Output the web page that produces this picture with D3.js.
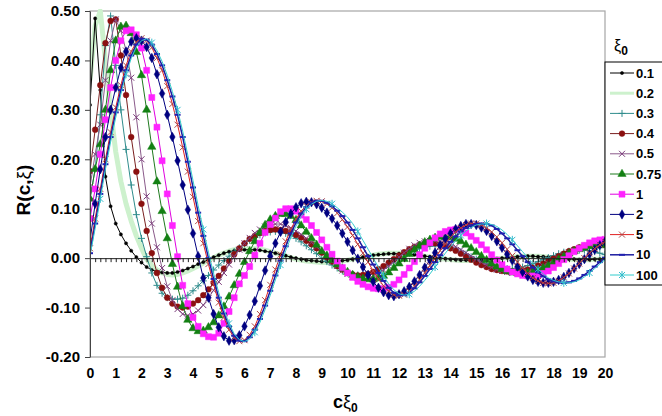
<!DOCTYPE html>
<html>
<head>
<meta charset="utf-8">
<script src="https://cdn.jsdelivr.net/npm/d3@7"></script>
<style>
  body { margin: 0; background: #fff; }
  svg { display: block; font-family: "Liberation Sans", Arial, sans-serif; }
</style>
</head>
<body>
<svg id="chart" width="662" height="416"></svg>
<script>
// x categories: c*xi0 from 0 to 20, every 0.2
const cValues = d3.range(101).map(i => i / 5);
const xTickLabels = d3.range(0, 21);
const yTickValues = [-0.2, -0.1, 0, 0.1, 0.2, 0.3, 0.4, 0.5];
const xiLabels = ['0.1', '0.2', '0.3', '0.4', '0.5', '0.75', '1', '2', '5', '10', '100'];

// R(c, xi), one value per 0.2 step (10 per row)
const r01 = [
  0.31, 0.485, 0.34, 0.165, 0.105, 0.07, 0.048, 0.03, 0.015, 0.002,
  -0.009, -0.018, -0.024, -0.027, -0.029, -0.03, -0.03, -0.028, -0.025, -0.021,
  -0.017, -0.012, -0.008, -0.003, 0.002, 0.006, 0.01, 0.013, 0.015, 0.016,
  0.017, 0.017, 0.017, 0.016, 0.014, 0.012, 0.01, 0.007, 0.005, 0.002,
  0.0, -0.002, -0.004, -0.005, -0.006, -0.007, -0.007, -0.007, -0.006, -0.005,
  -0.004, -0.002, 0.0, 0.002, 0.004, 0.006, 0.007, 0.008, 0.009, 0.009,
  0.009, 0.009, 0.008, 0.007, 0.006, 0.004, 0.003, 0.001, 0.0, -0.001,
  -0.002, -0.003, -0.004, -0.004, -0.004, -0.004, -0.004, -0.003, -0.002, -0.001,
  0.0, 0.001, 0.002, 0.003, 0.003, 0.004, 0.004, 0.003, 0.003, 0.002,
  0.001, 0.0, -0.001, -0.002, -0.002, -0.003, -0.003, -0.003, -0.002, -0.002,
  -0.001
];
const r02 = [
  0.36, 0.47, 0.5, 0.4, 0.3, 0.215, 0.155, 0.11, 0.075, 0.045,
  0.02, -0.002, -0.015, -0.024, -0.03, -0.033, -0.034, -0.033, -0.03, -0.026,
  -0.021, -0.016, -0.01, -0.004, 0.001, 0.006, 0.01, 0.014, 0.017, 0.018,
  0.019, 0.019, 0.019, 0.018, 0.016, 0.013, 0.01, 0.007, 0.004, 0.001,
  -0.002, -0.004, -0.006, -0.007, -0.008, -0.009, -0.009, -0.008, -0.007, -0.006,
  -0.004, -0.002, 0.0, 0.002, 0.004, 0.006, 0.008, 0.009, 0.01, 0.01,
  0.01, 0.01, 0.009, 0.008, 0.006, 0.004, 0.002, 0.0, -0.001, -0.002,
  -0.003, -0.004, -0.005, -0.005, -0.005, -0.005, -0.004, -0.003, -0.002, -0.001,
  0.0, 0.001, 0.002, 0.003, 0.004, 0.004, 0.004, 0.004, 0.003, 0.002,
  0.001, 0.0, -0.001, -0.002, -0.003, -0.003, -0.003, -0.003, -0.002, -0.002,
  -0.001
];
const r03 = [
  0.12, 0.18, 0.29, 0.43, 0.49, 0.39, 0.3, 0.22, 0.148, 0.088,
  0.04, 0.003, -0.03, -0.055, -0.071, -0.08, -0.083, -0.083, -0.081, -0.075,
  -0.066, -0.056, -0.046, -0.035, -0.024, -0.014, -0.005, 0.004, 0.013, 0.021,
  0.029, 0.036, 0.042, 0.047, 0.051, 0.053, 0.054, 0.053, 0.05, 0.046,
  0.04, 0.033, 0.025, 0.017, 0.009, 0.0, -0.007, -0.014, -0.02, -0.026,
  -0.03, -0.033, -0.034, -0.034, -0.032, -0.029, -0.025, -0.02, -0.014, -0.008,
  -0.002, 0.004, 0.01, 0.015, 0.019, 0.022, 0.024, 0.025, 0.025, 0.023,
  0.021, 0.017, 0.013, 0.008, 0.003, -0.002, -0.007, -0.011, -0.015, -0.018,
  -0.02, -0.021, -0.021, -0.02, -0.018, -0.015, -0.011, -0.007, -0.003, 0.001,
  0.005, 0.009, 0.012, 0.014, 0.016, 0.016, 0.016, 0.015, 0.013, 0.01,
  0.007
];
const r04 = [
  0.176, 0.26, 0.35, 0.435, 0.48, 0.483, 0.41, 0.33, 0.245, 0.175,
  0.11, 0.055, 0.01, -0.03, -0.06, -0.08, -0.092, -0.098, -0.1, -0.098,
  -0.092, -0.085, -0.075, -0.063, -0.05, -0.036, -0.021, -0.006, 0.008, 0.02,
  0.03, 0.039, 0.045, 0.051, 0.055, 0.057, 0.058, 0.057, 0.055, 0.052,
  0.047, 0.042, 0.035, 0.028, 0.02, 0.011, 0.002, -0.007, -0.016, -0.023,
  -0.029, -0.033, -0.035, -0.034, -0.032, -0.028, -0.022, -0.016, -0.009, -0.002,
  0.005, 0.012, 0.018, 0.023, 0.027, 0.029, 0.03, 0.03, 0.028, 0.025,
  0.02, 0.015, 0.009, 0.003, -0.003, -0.009, -0.014, -0.018, -0.022, -0.024,
  -0.026, -0.027, -0.027, -0.027, -0.025, -0.023, -0.019, -0.015, -0.011, -0.006,
  -0.001, 0.004, 0.009, 0.014, 0.018, 0.022, 0.025, 0.027, 0.029, 0.03,
  0.03
];
const r05 = [
  0.145, 0.21, 0.27, 0.36, 0.44, 0.483, 0.46, 0.42, 0.365, 0.285,
  0.2, 0.125, 0.07, 0.022, -0.02, -0.057, -0.085, -0.103, -0.113, -0.116,
  -0.113, -0.106, -0.095, -0.081, -0.065, -0.048, -0.03, -0.013, 0.003, 0.017,
  0.03, 0.041, 0.051, 0.058, 0.064, 0.067, 0.069, 0.069, 0.066, 0.061,
  0.055, 0.048, 0.04, 0.032, 0.023, 0.013, 0.003, -0.007, -0.016, -0.025,
  -0.032, -0.037, -0.04, -0.041, -0.04, -0.036, -0.031, -0.024, -0.016, -0.007,
  0.002, 0.011, 0.019, 0.026, 0.031, 0.034, 0.035, 0.035, 0.034, 0.031,
  0.028, 0.023, 0.017, 0.011, 0.004, -0.002, -0.008, -0.014, -0.019, -0.023,
  -0.026, -0.028, -0.03, -0.03, -0.03, -0.028, -0.025, -0.021, -0.016, -0.011,
  -0.005, 0.0, 0.006, 0.011, 0.016, 0.02, 0.023, 0.026, 0.027, 0.028,
  0.028
];
const r075 = [
  0.12, 0.18, 0.23, 0.3, 0.38, 0.44, 0.468, 0.47, 0.455, 0.417,
  0.37, 0.3, 0.225, 0.155, 0.095, 0.04, -0.012, -0.058, -0.097, -0.125,
  -0.142, -0.148, -0.147, -0.14, -0.13, -0.116, -0.098, -0.078, -0.055, -0.032,
  -0.008, 0.014, 0.034, 0.052, 0.067, 0.078, 0.085, 0.089, 0.089, 0.085,
  0.077, 0.066, 0.053, 0.04, 0.027, 0.014, 0.005, -0.004, -0.013, -0.021,
  -0.028, -0.034, -0.039, -0.042, -0.043, -0.043, -0.041, -0.036, -0.029, -0.02,
  -0.011, -0.002, 0.008, 0.017, 0.025, 0.032, 0.037, 0.041, 0.043, 0.043,
  0.042, 0.039, 0.034, 0.027, 0.02, 0.012, 0.004, -0.004, -0.011, -0.017,
  -0.022, -0.026, -0.029, -0.03, -0.03, -0.03, -0.028, -0.025, -0.02, -0.015,
  -0.009, -0.003, 0.003, 0.009, 0.014, 0.018, 0.021, 0.024, 0.025, 0.026,
  0.026
];
const r1 = [
  0.08, 0.14, 0.21, 0.28, 0.345, 0.4, 0.44, 0.46, 0.462, 0.452,
  0.425, 0.38, 0.325, 0.265, 0.197, 0.13, 0.066, 0.003, -0.055, -0.092,
  -0.12, -0.138, -0.153, -0.159, -0.16, -0.152, -0.132, -0.108, -0.08, -0.052,
  -0.035, -0.017, 0.006, 0.03, 0.052, 0.068, 0.081, 0.094, 0.1, 0.1,
  0.095, 0.087, 0.078, 0.066, 0.052, 0.037, 0.022, 0.008, -0.006, -0.019,
  -0.03, -0.039, -0.047, -0.053, -0.058, -0.061, -0.062, -0.062, -0.059, -0.053,
  -0.044, -0.033, -0.02, -0.007, 0.007, 0.02, 0.031, 0.041, 0.049, 0.054,
  0.057, 0.058, 0.056, 0.051, 0.044, 0.036, 0.027, 0.017, 0.007, -0.004,
  -0.013, -0.022, -0.028, -0.032, -0.035, -0.036, -0.036, -0.035, -0.031, -0.026,
  -0.019, -0.011, -0.003, 0.005, 0.013, 0.02, 0.026, 0.031, 0.035, 0.037,
  0.038
];
const r2 = [
  0.035, 0.11, 0.18, 0.245, 0.3, 0.345, 0.385, 0.418, 0.438, 0.445,
  0.44, 0.427, 0.405, 0.372, 0.333, 0.29, 0.245, 0.197, 0.148, 0.098,
  0.05, 0.004, -0.04, -0.08, -0.113, -0.14, -0.158, -0.167, -0.166, -0.156,
  -0.138, -0.115, -0.087, -0.056, -0.025, 0.004, 0.03, 0.053, 0.073, 0.09,
  0.103, 0.111, 0.114, 0.113, 0.109, 0.102, 0.092, 0.08, 0.066, 0.05,
  0.033, 0.016, -0.001, -0.018, -0.034, -0.048, -0.06, -0.069, -0.075, -0.077,
  -0.073, -0.067, -0.058, -0.047, -0.034, -0.019, -0.004, 0.011, 0.026, 0.039,
  0.05, 0.059, 0.065, 0.069, 0.069, 0.067, 0.062, 0.055, 0.045, 0.034,
  0.021, 0.008, -0.005, -0.017, -0.028, -0.037, -0.044, -0.048, -0.05, -0.05,
  -0.048, -0.044, -0.038, -0.03, -0.021, -0.012, -0.002, 0.008, 0.017, 0.026,
  0.033
];
const r5 = [
  0.02, 0.08, 0.14, 0.2, 0.255, 0.305, 0.35, 0.39, 0.418, 0.437,
  0.445, 0.44, 0.426, 0.405, 0.38, 0.348, 0.312, 0.27, 0.224, 0.175,
  0.124, 0.075, 0.03, -0.012, -0.053, -0.09, -0.12, -0.145, -0.161, -0.168,
  -0.166, -0.155, -0.138, -0.113, -0.085, -0.054, -0.023, 0.007, 0.034, 0.058,
  0.079, 0.095, 0.106, 0.113, 0.116, 0.115, 0.11, 0.102, 0.091, 0.078,
  0.063, 0.046, 0.028, 0.01, -0.008, -0.026, -0.042, -0.056, -0.067, -0.074,
  -0.076, -0.074, -0.067, -0.057, -0.044, -0.03, -0.015, 0.0, 0.015, 0.029,
  0.042, 0.053, 0.061, 0.067, 0.07, 0.07, 0.067, 0.061, 0.053, 0.043,
  0.031, 0.018, 0.005, -0.008, -0.02, -0.031, -0.04, -0.046, -0.05, -0.051,
  -0.05, -0.046, -0.039, -0.031, -0.021, -0.011, 0.0, 0.01, 0.019, 0.027,
  0.033
];
const r10 = [
  0.01, 0.07, 0.13, 0.19, 0.245, 0.295, 0.34, 0.38, 0.41, 0.432,
  0.444, 0.442, 0.432, 0.413, 0.39, 0.36, 0.327, 0.29, 0.245, 0.195,
  0.143, 0.092, 0.045, 0.0, -0.042, -0.08, -0.112, -0.138, -0.157, -0.167,
  -0.168, -0.16, -0.145, -0.123, -0.096, -0.066, -0.035, -0.005, 0.024, 0.05,
  0.072, 0.09, 0.103, 0.112, 0.116, 0.116, 0.112, 0.105, 0.096, 0.085,
  0.072, 0.057, 0.04, 0.022, 0.004, -0.013, -0.03, -0.046, -0.06, -0.07,
  -0.075, -0.075, -0.07, -0.061, -0.049, -0.036, -0.022, -0.008, 0.006, 0.02,
  0.033, 0.044, 0.054, 0.061, 0.066, 0.069, 0.07, 0.069, 0.066, 0.059,
  0.05, 0.04, 0.028, 0.016, 0.004, -0.008, -0.019, -0.029, -0.037, -0.043,
  -0.047, -0.049, -0.05, -0.049, -0.046, -0.041, -0.034, -0.026, -0.017, -0.008,
  0.001
];
const r100 = [
  0.005, 0.06, 0.12, 0.18, 0.235, 0.285, 0.332, 0.372, 0.404, 0.427,
  0.44, 0.444, 0.436, 0.42, 0.398, 0.37, 0.337, 0.3, 0.257, 0.208,
  0.157, 0.106, 0.058, 0.012, -0.031, -0.07, -0.104, -0.132, -0.153, -0.165,
  -0.169, -0.164, -0.15, -0.13, -0.104, -0.075, -0.044, -0.014, 0.015, 0.042,
  0.065, 0.084, 0.099, 0.109, 0.115, 0.117, 0.115, 0.11, 0.102, 0.093,
  0.083, 0.07, 0.054, 0.036, 0.018, 0.0, -0.018, -0.036, -0.052, -0.064,
  -0.072, -0.075, -0.073, -0.067, -0.057, -0.045, -0.032, -0.018, -0.004, 0.01,
  0.023, 0.035, 0.046, 0.055, 0.062, 0.067, 0.069, 0.07, 0.068, 0.064,
  0.057, 0.048, 0.037, 0.025, 0.013, 0.001, -0.011, -0.022, -0.032, -0.04,
  -0.045, -0.048, -0.05, -0.05, -0.048, -0.044, -0.038, -0.03, -0.021, -0.012,
  -0.003
];

const seriesValues = [r01, r02, r03, r04, r05, r075, r1, r2, r5, r10, r100];

// look of each series (line colour, width, marker)
const styles = [
  { line: '#000000', w: 1, marker: 'dot', mc: '#000000' },
  { line: '#cdf1cd', w: 5, marker: 'none', mc: '#cdf1cd' },
  { line: '#2f8c8c', w: 1, marker: 'plus', mc: '#2f8c8c' },
  { line: '#7a1f1f', w: 1, marker: 'circle', mc: '#8b1010' },
  { line: '#8a5a8a', w: 1, marker: 'x', mc: '#7a3a7a' },
  { line: '#1f7a1f', w: 1, marker: 'triangle', mc: '#138013' },
  { line: '#e000e0', w: 1, marker: 'square', mc: '#ff22ff' },
  { line: '#000080', w: 1, marker: 'diamond', mc: '#000080' },
  { line: '#e02020', w: 1, marker: 'x', mc: '#b04848' },
  { line: '#1c1ca0', w: 1.5, marker: 'dash', mc: '#2020b0' },
  { line: '#33cccc', w: 1, marker: 'star', mc: '#33bbcc', every: 5 }
];
// the wide pale band goes underneath everything else
const drawOrder = [1, 0, 2, 3, 4, 5, 6, 7, 8, 9, 10];

const svg = d3.select('#chart');
svg.append('rect').attr('width', 662).attr('height', 416).attr('fill', '#fff');

// SCALES
const plot = { left: 90, right: 605, top: 11, bottom: 357 };
const x = d3.scaleLinear().domain([0, 20]).range([plot.left, plot.right]);
const y = d3.scaleLinear().domain([-0.2, 0.5]).range([plot.bottom, plot.top]);

svg.append('clipPath').attr('id', 'clip')
  .append('rect')
  .attr('x', plot.left).attr('y', plot.top - 2)
  .attr('width', plot.right - plot.left).attr('height', plot.bottom - plot.top + 2);

// plot frame
svg.append('rect')
  .attr('x', plot.left).attr('y', plot.top)
  .attr('width', plot.right - plot.left).attr('height', plot.bottom - plot.top)
  .attr('fill', 'none').attr('stroke', '#a6a6a6').attr('stroke-width', 1.2);

// MARKERS
function markerPath(type) {
  switch (type) {
    case 'dot': return d3.symbol(d3.symbolCircle, 8)();
    case 'circle': return d3.symbol(d3.symbolCircle, 26)();
    case 'triangle': return d3.symbol(d3.symbolTriangle, 30)();
    case 'square': return 'M-3,-3H3V3H-3Z';
    case 'diamond': return d3.symbol(d3.symbolDiamond, 26)();
    case 'plus': return 'M-3.5,0H3.5M0,-3.5V3.5';
    case 'x': return 'M-3,-3L3,3M-3,3L3,-3';
    case 'star': return 'M-3,-3L3,3M-3,3L3,-3M0,-4V4';
    case 'dash': return 'M-3,0H3';
    default: return null;
  }
}
const filled = t => ['dot', 'circle', 'triangle', 'square', 'diamond'].includes(t);
const markerWidth = t => filled(t) ? 0.5 : (t === 'dash' ? 2 : 1);

const line = d3.line().x(d => x(d.c)).y(d => y(d.v));
const curves = svg.append('g').attr('clip-path', 'url(#clip)');

drawOrder.forEach(k => {
  const st = styles[k];
  const pts = seriesValues[k].map((v, i) => ({ c: cValues[i], v: v }));
  const g = curves.append('g');
  g.append('path').datum(pts)
    .attr('d', line).attr('fill', 'none')
    .attr('stroke', st.line).attr('stroke-width', st.w)
    .attr('stroke-linejoin', 'round');
  const p = markerPath(st.marker);
  if (!p) return;
  const every = st.every || 1;
  g.selectAll('path.m').data(pts.filter((d, i) => i % every === 2 % every))
    .enter().append('path').attr('class', 'm')
    .attr('d', p)
    .attr('transform', d => `translate(${x(d.c)}, ${y(d.v)})`)
    .attr('fill', filled(st.marker) ? st.mc : 'none')
    .attr('stroke', st.mc)
    .attr('stroke-width', markerWidth(st.marker));
});

// x axis on the zero line, one tick per data step
const zeroAxis = svg.append('g').attr('transform', `translate(0, ${y(0)})`)
  .call(d3.axisBottom(x).tickValues(cValues).tickSize(4).tickSizeOuter(0).tickFormat(''));
zeroAxis.selectAll('line, path').attr('stroke', '#222');

// x labels under the frame
const xLab = svg.append('g').attr('transform', `translate(0, ${plot.bottom})`)
  .call(d3.axisBottom(x).tickValues(xTickLabels).tickSize(0).tickPadding(11).tickFormat(d3.format('d')));
xLab.select('.domain').remove();
xLab.selectAll('text').attr('font-size', 14).attr('font-weight', 'bold')
  .attr('font-family', '"Liberation Sans", Arial, sans-serif').attr('fill', '#000');

// y axis
const yAxis = svg.append('g').attr('transform', `translate(${plot.left}, 0)`)
  .call(d3.axisLeft(y).tickValues(yTickValues).tickSize(5).tickSizeOuter(0).tickPadding(5)
    .tickFormat(d => d.toFixed(2)));
yAxis.selectAll('line, path').attr('stroke', '#444');
yAxis.selectAll('text').attr('font-size', 15).attr('font-weight', 'bold')
  .attr('font-family', '"Liberation Sans", Arial, sans-serif').attr('fill', '#000');

// AXIS TITLES
const yTitle = svg.append('text')
  .attr('transform', 'translate(30, 190) rotate(-90)')
  .attr('text-anchor', 'middle')
  .attr('font-size', 19).attr('font-weight', 'bold');
yTitle.append('tspan').text('R(c,');
yTitle.append('tspan').attr('font-weight', 'normal').text('ξ');
yTitle.append('tspan').text(')');

const xTitle = svg.append('text').attr('x', 333).attr('y', 408)
  .attr('font-size', 18).attr('font-weight', 'bold');
xTitle.append('tspan').text('c');
xTitle.append('tspan').attr('font-weight', 'normal').text('ξ');
xTitle.append('tspan').attr('font-size', 12).attr('dy', 4).text('0');

// LEGEND
const legendTitle = svg.append('text').attr('x', 614).attr('y', 51).attr('font-size', 16);
legendTitle.append('tspan').text('ξ');
legendTitle.append('tspan').attr('font-size', 12).attr('font-weight', 'bold').attr('dy', 4).text('0');

const legend = svg.append('g').attr('transform', 'translate(605, 62)');
legend.append('rect').attr('width', 80).attr('height', 223)
  .attr('fill', '#fff').attr('stroke', '#000').attr('stroke-width', 1);

const items = legend.selectAll('g.item').data(xiLabels).enter().append('g')
  .attr('class', 'item')
  .attr('transform', (d, i) => `translate(0, ${11 + i * 20.2})`);
items.append('line').attr('x1', 5).attr('x2', 29)
  .attr('stroke', (d, i) => styles[i].line)
  .attr('stroke-width', (d, i) => Math.min(styles[i].w, 3));
items.append('path')
  .attr('transform', 'translate(17, 0)')
  .attr('d', (d, i) => markerPath(styles[i].marker))
  .attr('fill', (d, i) => filled(styles[i].marker) ? styles[i].mc : 'none')
  .attr('stroke', (d, i) => styles[i].mc)
  .attr('stroke-width', (d, i) => markerWidth(styles[i].marker));
items.append('text').attr('x', 31).attr('dy', '0.36em')
  .attr('font-size', 13).attr('font-weight', 'bold').text(d => d);
</script>
</body>
</html>
